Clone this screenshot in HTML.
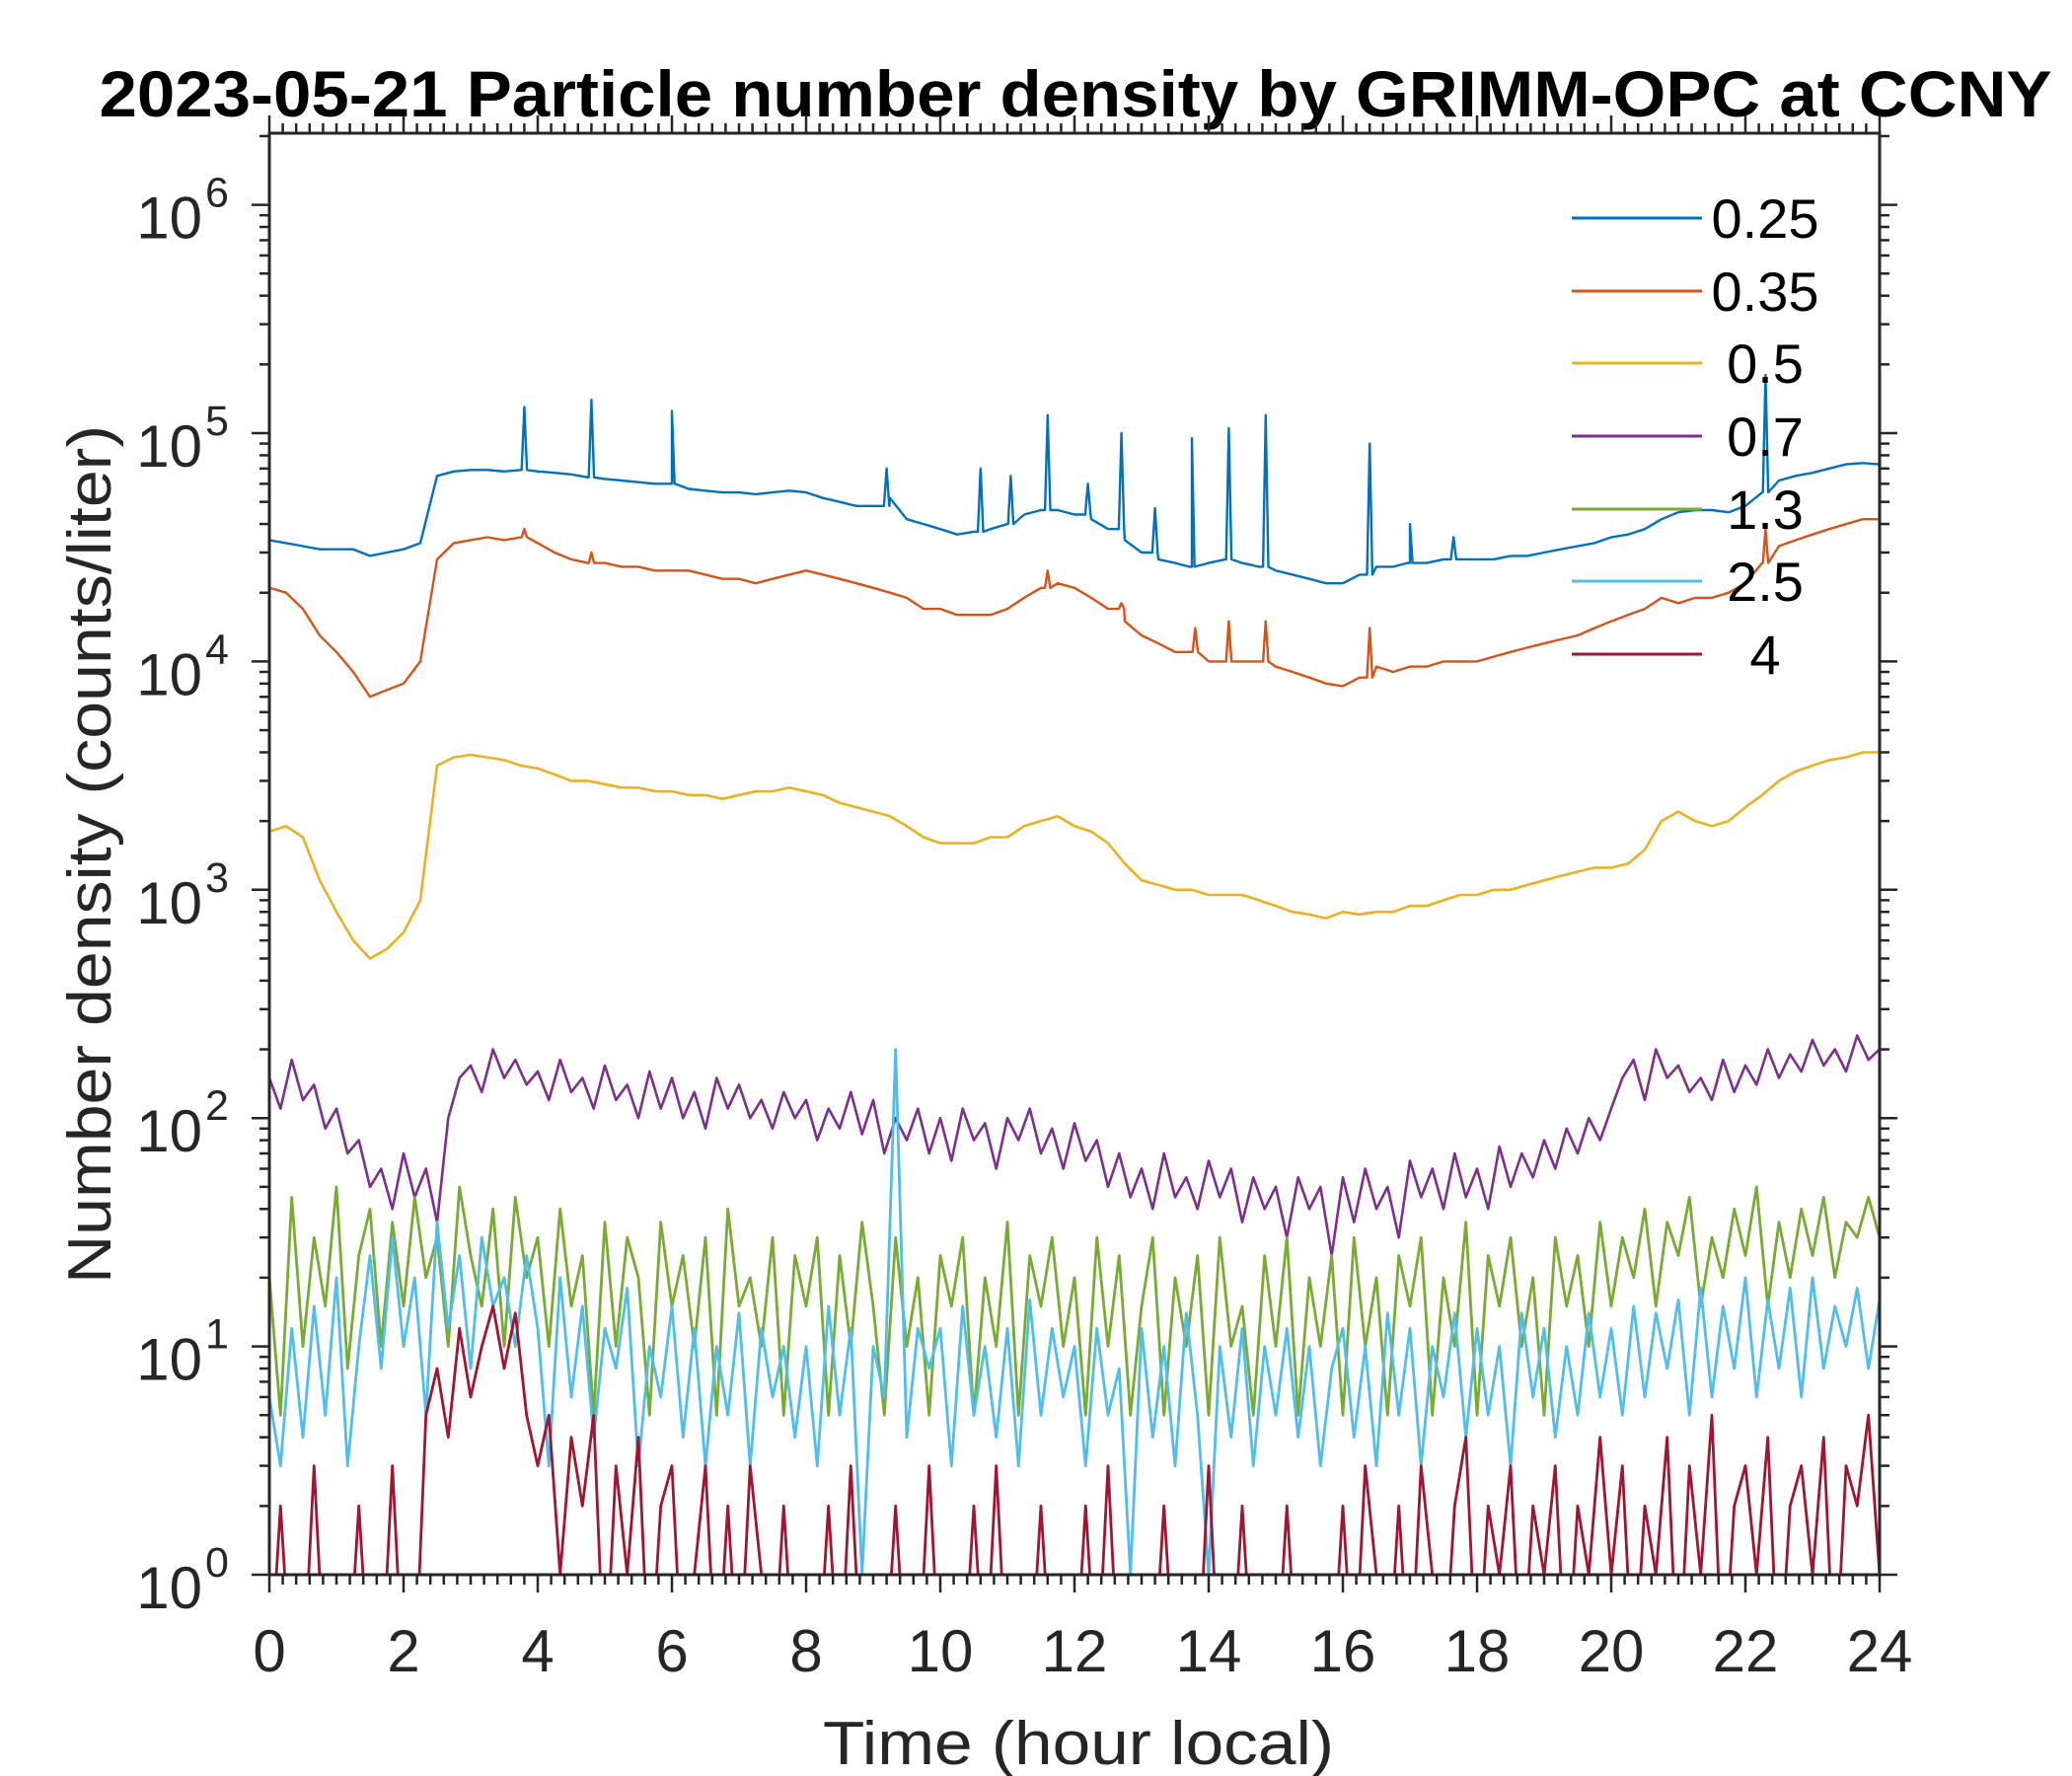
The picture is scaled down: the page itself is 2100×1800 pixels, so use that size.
<!DOCTYPE html>
<html><head><meta charset="utf-8"><style>
html,body{margin:0;padding:0;background:#fff;}
svg{display:block;font-family:"Liberation Sans",Arial,sans-serif;}
</style></head><body>
<svg id="chart" width="2100" height="1800" viewBox="0 0 2100 1800" xmlns="http://www.w3.org/2000/svg">
<defs><clipPath id="plotclip"><rect x="273" y="135" width="1632" height="1461"/></clipPath></defs>
<rect width="2100" height="1800" fill="#fff"/>
<text x="1090" y="118" text-anchor="middle" font-size="66" font-weight="bold" fill="#000" textLength="1979" lengthAdjust="spacingAndGlyphs">2023-05-21 Particle number density by GRIMM-OPC at CCNY</text>
<g id="series" clip-path="url(#plotclip)"></g>
<g id="axes"></g>
<g id="legend"></g>
<text x="1093" y="1788" text-anchor="middle" font-size="62" fill="#262626" textLength="518" lengthAdjust="spacingAndGlyphs">Time (hour local)</text>
<text transform="translate(112,866) rotate(-90)" text-anchor="middle" font-size="62" fill="#262626" textLength="870" lengthAdjust="spacingAndGlyphs">Number density (counts/liter)</text>
</svg>
<script>
const seriesNames = ["0.25","0.35","0.5","0.7","1.3","2.5","4"];
const seriesColors = ["#0072BD","#D95319","#EDB120","#7E2F8E","#77AC30","#4DBEEE","#A2142F"];
const xTicks = [0,2,4,6,8,10,12,14,16,18,20,22,24];
const yTickExps = [0,1,2,3,4,5,6];

const s025 = [34000,33000,32000,31000,31000,31000,29000,30000,31000,33000,65000,68000,69000,69000,68000,69000,68000,67000,66000,64000,63000,62000,61000,60000,60000,57000,56000,55000,55000,54000,55000,56000,55000,52000,50000,48000,48000,52000,42000,40000,38000,36000,37000,38000,40000,44000,46000,46000,44000,42000,38000,34000,30000,28000,27000,26000,27000,28000,27000,26000,25000,24000,23000,22000,22000,24000,26000,26000,27000,27000,28000,28000,28000,28000,29000,29000,30000,31000,32000,33000,35000,36000,38000,42000,45000,46000,46000,45000,48000,55000,62000,65000,67000,70000,73000,74000,73000];
const s025SpikeT = [3.8,4.8,6.0,9.2,10.6,11.05,11.6,12.2,12.7,13.2,13.75,14.3,14.85,16.4,17.0,17.65,22.3];
const s025SpikeV = [130000,140000,125000,70000,70000,65000,120000,60000,100000,47000,95000,105000,120000,90000,40000,35000,180000];
const s035 = [21000,20000,17000,13000,11000,9000,7000,7500,8000,10000,28000,33000,34000,35000,34000,35000,33000,30000,28000,27000,27000,26000,26000,25000,25000,25000,24000,23000,23000,22000,23000,24000,25000,24000,23000,22000,21000,20000,19000,17000,17000,16000,16000,16000,17000,19000,21000,22000,21000,19000,17000,15000,13000,12000,11000,11000,10000,10000,10000,10000,9500,9000,8500,8000,7800,8500,9500,9000,9500,9500,10000,10000,10000,10500,11000,11500,12000,12500,13000,14000,15000,16000,17000,19000,18000,19000,19000,20000,22000,27000,32000,34000,36000,38000,40000,42000,42000];
const s035SpikeT = [3.8,4.8,11.6,12.7,13.8,14.3,14.85,16.4,22.3];
const s035SpikeV = [38000,30000,25000,18000,14000,15000,15000,14000,38000];
const s05 = [1800,1900,1700,1100,800,600,500,550,650,900,3500,3800,3900,3800,3700,3500,3400,3200,3000,3000,2900,2800,2800,2700,2700,2600,2600,2500,2600,2700,2700,2800,2700,2600,2400,2300,2200,2100,1900,1700,1600,1600,1600,1700,1700,1900,2000,2100,1900,1800,1600,1300,1100,1050,1000,1000,950,950,950,900,850,800,780,750,800,780,800,800,850,850,900,950,950,1000,1000,1050,1100,1150,1200,1250,1250,1300,1500,2000,2200,2000,1900,2000,2300,2600,3000,3300,3500,3700,3800,4000,4000];
const s07 = [150,110,180,120,140,90,110,70,80,50,60,40,70,45,60,35,100,150,170,130,200,150,180,140,
160,120,180,130,150,110,170,120,140,100,160,110,150,100,130,90,150,110,140,100,120,90,130,100,
120,80,110,90,130,85,120,70,100,80,110,70,100,65,110,80,95,60,100,80,110,70,90,60,
95,65,80,50,70,45,60,40,70,45,55,40,65,45,60,35,55,40,50,30,55,40,50,25,
55,35,60,40,50,30,65,45,60,40,70,45,60,40,75,50,70,55,80,60,90,70,100,80,
110,150,180,120,200,150,170,130,150,120,180,130,170,140,200,150,190,160,220,170,200,160,230,180,200];
const s13 = [20,5,45,10,30,15,50,8,25,40,10,35,15,45,20,30,10,50,25,15,40,10,45,20,
30,10,40,15,25,5,35,10,30,20,5,35,15,25,10,30,5,40,15,20,10,30,5,25,
15,30,5,25,10,35,15,5,30,10,20,5,25,15,30,5,20,10,35,5,25,15,30,10,
20,5,30,10,25,5,15,30,5,20,10,25,5,30,10,15,5,25,10,30,5,20,10,25,
5,30,10,20,5,25,15,30,5,20,10,35,5,25,15,30,10,20,5,30,15,25,10,35,
15,30,20,40,15,35,25,45,15,30,20,40,25,50,15,35,20,40,25,45,20,35,30,45,30];
const s25 = [6,3,12,4,15,5,20,3,10,25,8,30,10,20,5,35,12,25,8,30,15,20,10,25,
12,3,20,6,15,4,12,8,18,3,10,6,15,4,12,3,10,5,14,3,12,6,10,4,
10,3,15,5,12,1,10,6,200,4,12,8,12,3,15,5,10,4,12,3,16,5,12,6,
10,3,12,5,8,1,12,4,10,3,14,5,1,10,4,12,3,10,5,12,4,10,3,8,
12,4,10,3,14,5,12,3,10,6,14,4,12,5,10,3,14,6,12,4,10,5,14,6,
12,5,15,6,14,8,16,5,18,6,15,8,20,6,16,8,18,6,20,8,15,10,18,8,16];
const s4 = [0,2,0,0,3,0,1,0,2,0,0,3,0,0,5,8,4,12,6,10,15,8,14,5,
3,5,1,4,2,5,0,3,1,4,0,2,3,0,1,3,0,2,0,3,1,0,2,0,
1,0,2,0,3,0,1,0,2,0,0,3,0,1,0,2,0,3,0,1,0,2,0,1,
0,2,0,3,0,1,0,0,2,0,1,0,3,0,0,2,0,1,0,2,0,0,1,0,
2,0,3,1,0,2,0,3,1,0,2,4,0,2,1,3,0,2,1,3,0,2,1,4,
1,3,0,2,1,4,0,3,1,5,0,2,3,1,4,0,2,3,1,4,0,3,2,5,1];

const X0=273,X1=1905,Y0=1596,DEC=231.4,TMAX=24;
function xs(t){return X0+(t/TMAX)*(X1-X0);}
function ys(v){const lv=v>0?Math.log10(v):-0.5;return Y0-lv*DEC;}
const NS="http://www.w3.org/2000/svg";
function mk(tag,attrs,parent){const e=document.createElementNS(NS,tag);for(const k in attrs)e.setAttribute(k,attrs[k]);parent.appendChild(e);return e;}

function pts(vals,spT,spV){
  const n=vals.length;let p=vals.map((v,i)=>[i*TMAX/(n-1),v]);
  if(spT){spT.forEach((t,j)=>{const i=Math.floor(t/(TMAX/(n-1)));const base=vals[i];p.push([t-0.04,base],[t,spV[j]],[t+0.04,base]);});p.sort((a,b)=>a[0]-b[0]);}
  return p.map(q=>xs(q[0]).toFixed(1)+","+ys(q[1]).toFixed(1)).join(" ");
}
const sg=document.getElementById("series");
const allSeries=[[s025,s025SpikeT,s025SpikeV],[s035,s035SpikeT,s035SpikeV],[s05],[s07],[s13],[s25],[s4]];
const widths=[2.4,2.4,2.6,2.6,2.8,2.8,2.8];
const seriesKeys=["0-25","0-35","0-5","0-7","1-3","2-5","4"];
allSeries.forEach((s,k)=>{
  const pl=mk("polyline",{points:pts(s[0],s[1],s[2]),fill:"none",stroke:seriesColors[k],"stroke-width":widths[k],"stroke-linejoin":"round"},sg);
  
  
});

const ax=document.getElementById("axes");
const frame=mk("rect",{x:X0,y:135,width:X1-X0,height:Y0-135,fill:"none",stroke:"#262626","stroke-width":3},ax);


for(let t=0;t<=24.001;t+=0.2){
  const major=Math.abs(t/2-Math.round(t/2))<1e-6;const L=major?18:10;const x=xs(t);
  mk("line",{x1:x,y1:Y0,x2:x,y2:Y0+L,stroke:"#262626","stroke-width":2.5},ax);
  mk("line",{x1:x,y1:135,x2:x,y2:135-L,stroke:"#262626","stroke-width":2.5},ax);
}
xTicks.forEach(t=>{
  const tx=mk("text",{x:xs(t),y:1694,"text-anchor":"middle","font-size":60,fill:"#262626"},ax);
  tx.textContent=t;
  
  
});
for(let e=0;e<=6;e++){
  for(let m=1;m<=9;m++){
    const v=m*Math.pow(10,e);const y=ys(v);if(y<135)continue;const L=m===1?18:10;
    mk("line",{x1:X0,y1:y,x2:X0-L,y2:y,stroke:"#262626","stroke-width":2.5},ax);
    mk("line",{x1:X1,y1:y,x2:X1+L,y2:y,stroke:"#262626","stroke-width":2.5},ax);
  }
}
yTickExps.forEach(e=>{
  const y=ys(Math.pow(10,e));
  const tx=mk("text",{x:205,y:y+34,"text-anchor":"end","font-size":60,fill:"#262626"},ax);
  tx.textContent="10";
  
  
  const sp=mk("text",{x:208,y:y+2,"text-anchor":"start","font-size":43,fill:"#262626"},ax);
  sp.textContent=e;
  
  
});
const lg=document.getElementById("legend");
const legY=[221,295,368,442,516,589,663];
seriesNames.forEach((n,k)=>{
  const g=mk("g",{},lg);
  
  
  mk("line",{x1:1593,y1:legY[k],x2:1725,y2:legY[k],stroke:seriesColors[k],"stroke-width":3},g);
  const t=mk("text",{x:1789,y:legY[k]+20,"text-anchor":"middle","font-size":56,fill:"#000"},g);
  t.textContent=n;
});
</script>
</body></html>
